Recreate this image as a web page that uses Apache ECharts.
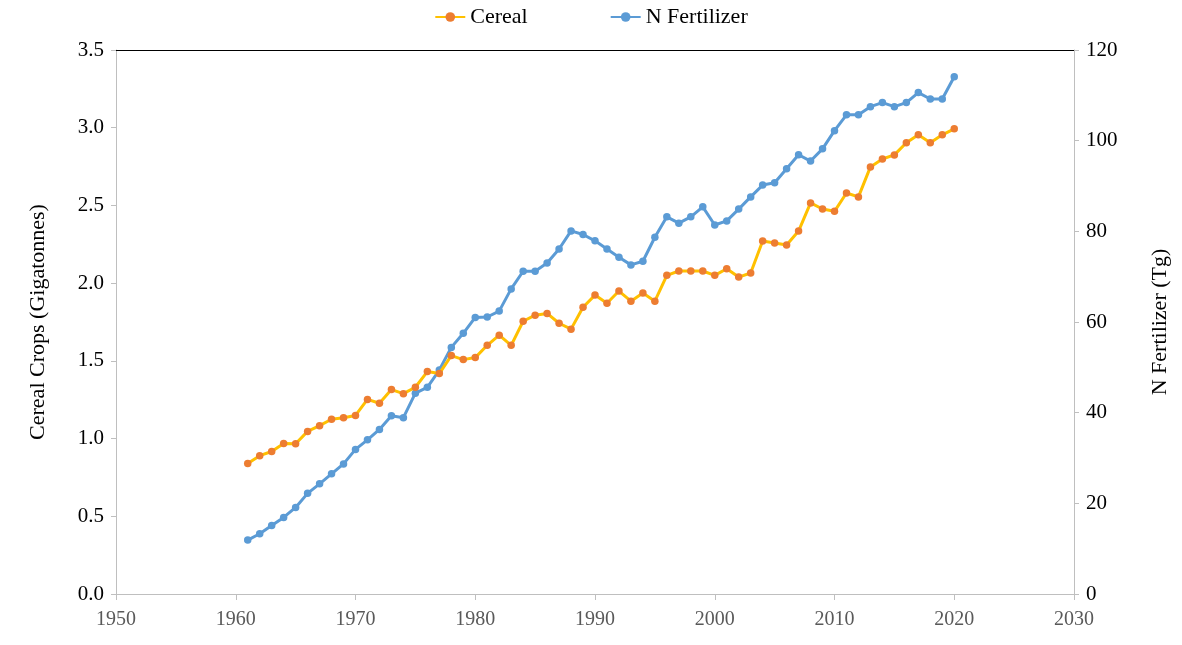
<!DOCTYPE html>
<html>
<head>
<meta charset="utf-8">
<script src="https://cdn.jsdelivr.net/npm/echarts@6/dist/echarts.min.js"></script>
<style>html,body{margin:0;padding:0;background:#fff;}#c{width:1182px;height:645px;}</style>
</head>
<body>
<div id="c"></div>
<script>
var years = [1961,1962,1963,1964,1965,1966,1967,1968,1969,1970,1971,1972,1973,1974,1975,1976,1977,1978,1979,1980,
 1981,1982,1983,1984,1985,1986,1987,1988,1989,1990,1991,1992,1993,1994,1995,1996,1997,1998,1999,2000,
 2001,2002,2003,2004,2005,2006,2007,2008,2009,2010,2011,2012,2013,2014,2015,2016,2017,2018,2019,2020];
var cereal = [0.84,0.89,0.917,0.969,0.967,1.046,1.083,1.124,1.134,1.149,1.252,1.227,1.315,1.289,1.33,1.431,1.418,1.534,1.508,1.521,
 1.600,1.665,1.600,1.755,1.794,1.805,1.742,1.704,1.845,1.923,1.871,1.949,1.884,1.936,1.884,2.050,2.078,2.078,2.078,2.050,
 2.093,2.039,2.065,2.271,2.258,2.245,2.335,2.516,2.477,2.462,2.580,2.555,2.748,2.799,2.825,2.903,2.954,2.903,2.954,2.993];
var nFert = [11.9,13.3,15.1,16.9,19.1,22.2,24.3,26.5,28.7,31.9,34.0,36.3,39.3,38.9,44.3,45.6,49.4,54.4,57.5,61.0,
 61.1,62.4,67.3,71.2,71.2,73.0,76.1,80.1,79.3,77.9,76.1,74.3,72.6,73.4,78.7,83.2,81.8,83.2,85.4,81.4,
 82.3,84.9,87.6,90.2,90.7,93.8,96.9,95.5,98.2,102.2,105.7,105.7,107.5,108.4,107.5,108.4,110.6,109.2,109.2,114.1];
var seriesNames = ['Cereal','N Fertilizer'];
var leftTitle = 'Cereal Crops (Gigatonnes)';
var rightTitle = 'N Fertilizer (Tg)';

function pairs(xs, ys){ return xs.map(function(x,i){ return [x, ys[i]]; }); }

var font = 'Liberation Serif';
var chart = echarts.init(document.getElementById('c'));
chart.setOption({
  animation: false,
  textStyle: {fontFamily: font},
  legend: {
    top: 1, left: 'center', itemGap: 82, itemWidth: 30, itemHeight: 12,
    textStyle: {fontFamily: font, fontSize: 22, color: '#000'},
    data: seriesNames
  },
  grid: {left: 116, right: 108, top: 50, bottom: 51},
  xAxis: [{
    type: 'value', min: 1950, max: 2030, interval: 10,
    axisLine: {lineStyle: {color: '#BFBFBF', width: 1}},
    axisTick: {show: true, length: 6, lineStyle: {color: '#BFBFBF'}},
    axisLabel: {color: '#595959', fontSize: 20, fontFamily: font, margin: 16,
      formatter: function(v){ return String(v); }},
    splitLine: {show: false}
  },{
    type: 'value', position: 'top', min: 1950, max: 2030,
    axisLine: {show: true, onZero: false, lineStyle: {color: '#000', width: 1}},
    axisTick: {show: false}, axisLabel: {show: false}, splitLine: {show: false}
  }],
  yAxis: [{
    type: 'value', min: 0, max: 3.5, interval: 0.5,
    name: leftTitle, nameLocation: 'middle', nameGap: 67, nameRotate: 90,
    nameTextStyle: {fontFamily: font, fontSize: 22, color: '#000'},
    axisLine: {show: true, lineStyle: {color: '#BFBFBF'}},
    axisTick: {show: true, length: 5, lineStyle: {color: '#BFBFBF'}},
    axisLabel: {color: '#000', fontSize: 21, fontFamily: font, margin: 12,
      formatter: function(v){ return v.toFixed(1); }},
    splitLine: {show: false}
  },{
    type: 'value', min: 0, max: 120, interval: 20, position: 'right',
    name: rightTitle, nameLocation: 'middle', nameGap: 75, nameRotate: 90,
    nameTextStyle: {fontFamily: font, fontSize: 22, color: '#000'},
    axisLine: {show: true, lineStyle: {color: '#BFBFBF'}},
    axisTick: {show: true, length: 5, lineStyle: {color: '#BFBFBF'}},
    axisLabel: {color: '#000', fontSize: 21, fontFamily: font, margin: 12},
    splitLine: {show: false}
  }],
  series: [{
    name: seriesNames[0], type: 'line', xAxisIndex: 0, yAxisIndex: 0,
    data: pairs(years, cereal),
    symbol: 'circle', symbolSize: 7.5, showAllSymbol: true,
    lineStyle: {color: '#FFC000', width: 3},
    itemStyle: {color: '#ED7D31'},
    z: 3
  },{
    name: seriesNames[1], type: 'line', xAxisIndex: 0, yAxisIndex: 1,
    data: pairs(years, nFert),
    symbol: 'circle', symbolSize: 7.5, showAllSymbol: true,
    lineStyle: {color: '#5B9BD5', width: 3},
    itemStyle: {color: '#5B9BD5'},
    z: 2
  }]
});
</script>
</body>
</html>
